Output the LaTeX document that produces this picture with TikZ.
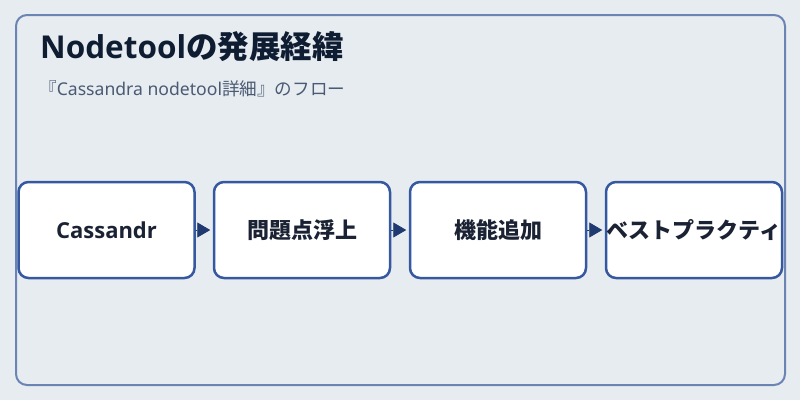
\documentclass[tikz,border=0pt]{standalone}
\usepackage{fontspec}
\setmainfont{Noto Sans}
\newfontfamily\cjk{Noto Sans CJK JP}
\newfontfamily\lat{Noto Sans}
\newfontfamily\latb{Open Sans}
\usetikzlibrary{arrows.meta}
\definecolor{bgc}{HTML}{E7ECF1}
\definecolor{framec}{HTML}{6A84B4}
\definecolor{boxc}{HTML}{3558A0}
\definecolor{arrc}{HTML}{1F3A70}
\definecolor{titlec}{HTML}{0F1D33}
\definecolor{subc}{HTML}{4A5A72}
\definecolor{textc}{HTML}{1A2233}
\tikzset{
  stepbox/.style={draw=boxc, line width=2.5pt, fill=white, rounded corners=10pt,
    minimum width=176pt, minimum height=96pt, inner sep=0pt,
    text=textc, font=\fontsize{22}{26}\selectfont},
  flow/.style={draw=arrc, line width=0.8pt, -{Triangle[length=13pt,width=15pt]}, shorten >=2.5pt, fill=arrc},
}
\begin{document}
\begin{tikzpicture}[x=1pt,y=-1pt]
\fill[bgc] (0,0) rectangle (800,400);
\useasboundingbox (0,0) rectangle (800,400);
\draw[framec, line width=2pt, rounded corners=11pt] (16,15) rectangle (785,385);
\node[anchor=base west, inner sep=0pt, text=titlec, font=\fontsize{31.5}{34}\selectfont] (title) at (40,58)
  {{\latb\bfseries Nodetool}{\cjk\bfseries の発展経緯}};
\node[anchor=base west, inner sep=0pt, text=subc, font=\fontsize{17.6}{20}\selectfont] (sub) at (39,95)
  {{\cjk 『}{\lat Cassandra nodetool}{\cjk 詳細』のフロー}};
\node[stepbox] (b1) at (106.5,230) {\latb\bfseries Cassandr};
\node[stepbox] (b2) at (302,230) {\cjk\bfseries 問題点浮上};
\node[stepbox] (b3) at (498,230) {\cjk\bfseries 機能追加};
\node[stepbox] (b4) at (694,230) {\cjk\bfseries ベストプラクティ};
\draw[flow] (b1.east) -- (b2.west);
\draw[flow] (b2.east) -- (b3.west);
\draw[flow] (b3.east) -- (b4.west);
\end{tikzpicture}
\end{document}
